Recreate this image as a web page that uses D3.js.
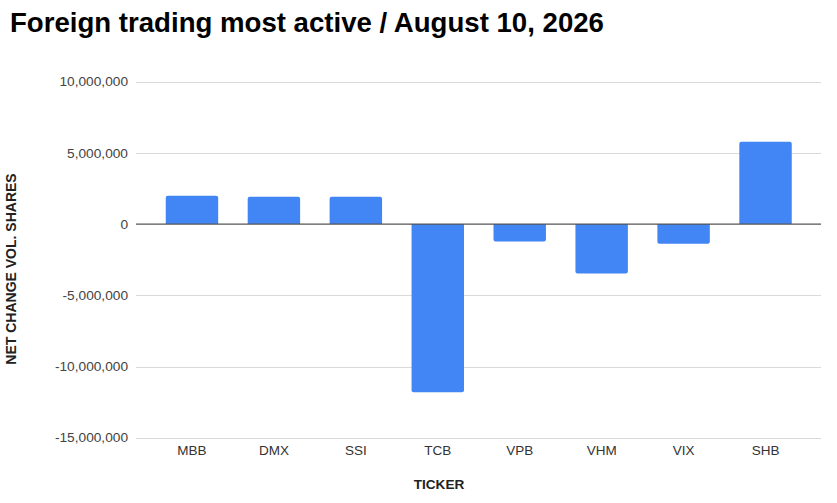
<!DOCTYPE html>
<html>
<head>
<meta charset="utf-8">
<script src="https://cdn.jsdelivr.net/npm/d3@7"></script>
<style>
  body { margin: 0; background: #fff; }
  svg { font-family: "Liberation Sans", Arial, sans-serif; display: block; }
</style>
</head>
<body>
<div id="chart"></div>
<script>
// chart data
const tickers = ["MBB", "DMX", "SSI", "TCB", "VPB", "VHM", "VIX", "SHB"];
const netChange = [1990000, 1920000, 1920000, -11800000, -1220000, -3470000, -1380000, 5780000];
const yTicks = [10000000, 5000000, 0, -5000000, -10000000, -15000000];

const width = 837, height = 503;

const svg = d3.select("#chart").append("svg")
    .attr("width", width)
    .attr("height", height);

// title
svg.append("text")
    .attr("x", 10)
    .attr("y", 32)
    .style("font-size", "27.6px")
    .style("font-weight", "bold")
    .attr("fill", "#000")
    .text("Foreign trading most active / August 10, 2026");

// scales
let y = d3.scaleLinear()
    .domain([-15000000, 10000000])
    .range([437.7, 81.7]);

let x = d3.scaleBand()
    .domain(tickers)
    .range([151, 806.5])
    .paddingInner(0.36)
    .paddingOuter(0.18);

const gridLeft = 136, gridRight = 821;

// plain hyphen for negatives, like the original
const fmt = d3.formatLocale({decimal: ".", thousands: ",", grouping: [3], currency: ["", ""], minus: "-"}).format(",");

// gridlines
svg.append("g").selectAll("line")
    .data(yTicks.filter(d => d !== 0))
    .enter().append("line")
    .attr("x1", gridLeft)
    .attr("x2", gridRight)
    .attr("y1", d => Math.round(y(d)) + 0.5)
    .attr("y2", d => Math.round(y(d)) + 0.5)
    .attr("stroke", "#dadada")
    .attr("stroke-width", 1);

// y tick labels
svg.append("g").selectAll("text")
    .data(yTicks)
    .enter().append("text")
    .attr("x", 128)
    .attr("y", d => y(d) + 4.7)
    .attr("text-anchor", "end")
    .style("font-size", "13.7px")
    .attr("fill", "#444")
    .text(d => fmt(d));

// bars
svg.append("g").selectAll("path")
    .data(tickers.map((t, i) => ({ticker: t, value: netChange[i]})))
    .enter().append("path")
    .attr("fill", "#4285f4")
    .attr("d", d => {
        let x0 = x(d.ticker), w = x.bandwidth();
        let y0 = y(0), y1 = y(d.value);
        let r = 2;
        if (d.value >= 0) {
            return `M${x0},${y0} V${y1 + r} Q${x0},${y1} ${x0 + r},${y1} H${x0 + w - r} Q${x0 + w},${y1} ${x0 + w},${y1 + r} V${y0} Z`;
        }
        return `M${x0},${y0} V${y1 - r} Q${x0},${y1} ${x0 + r},${y1} H${x0 + w - r} Q${x0 + w},${y1} ${x0 + w},${y1 - r} V${y0} Z`;
    });

// zero line
svg.append("line")
    .attr("x1", gridLeft)
    .attr("x2", gridRight)
    .attr("y1", y(0))
    .attr("y2", y(0))
    .attr("stroke", "#555")
    .attr("stroke-width", 1.3);

// x tick labels
svg.append("g").selectAll("text")
    .data(tickers)
    .enter().append("text")
    .attr("x", d => x(d) + x.bandwidth() / 2)
    .attr("y", 455)
    .attr("text-anchor", "middle")
    .style("font-size", "13.5px")
    .attr("fill", "#333")
    .text(d => d);

// axis titles
svg.append("text")
    .attr("x", 439)
    .attr("y", 489)
    .attr("text-anchor", "middle")
    .style("font-size", "13.6px")
    .style("font-weight", "bold")
    .attr("fill", "#222")
    .text("TICKER");

svg.append("text")
    .attr("transform", "translate(16,269) rotate(-90)")
    .attr("text-anchor", "middle")
    .style("font-size", "14px")
    .style("font-weight", "bold")
    .attr("fill", "#222")
    .text("NET CHANGE VOL. SHARES");
</script>
</body>
</html>
